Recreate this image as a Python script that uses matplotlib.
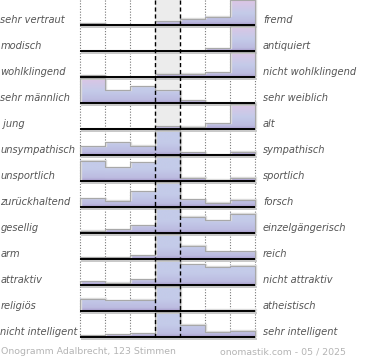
import numpy as np
import matplotlib
matplotlib.use("Agg")
import matplotlib.pyplot as plt
from matplotlib.colors import to_rgb

# semantic differential pairs (left / right pole)
left_labels = ["sehr vertraut", "modisch", "wohlklingend", "sehr männlich", " jung",
               "unsympathisch", "unsportlich", "zurückhaltend", "gesellig", "arm",
               "attraktiv", "religiös", "nicht intelligent"]
right_labels = ["fremd", "antiquiert", "nicht wohlklingend", "sehr weiblich", "alt",
                "sympathisch", "sportlich", "forsch", "einzelgängerisch", "reich",
                "nicht attraktiv", "atheistisch", "sehr intelligent"]

# share of votes (%) for the 7 answer steps of each pair
votes = [
    [1.6, 0.0, 0.0, 3.7, 6.5, 8.1, 80.0],
    [0.0, 0.0, 0.0, 0.0, 0.0, 2.8, 97.0],
    [1.6, 0.0, 0.0, 3.3, 3.3, 4.9, 87.0],
    [55.0, 12.6, 16.7, 12.6, 2.8, 0.0, 0.0],
    [0.0, 0.0, 0.0, 2.8, 2.0, 5.7, 90.0],
    [8.9, 12.6, 9.3, 62.0, 2.8, 0.8, 3.3],
    [20.3, 13.8, 18.7, 39.0, 3.3, 1.2, 3.3],
    [8.9, 6.5, 15.8, 50.0, 7.7, 4.1, 7.3],
    [2.0, 3.7, 7.7, 39.0, 16.3, 12.6, 19.1],
    [1.6, 1.6, 3.7, 64.0, 13.4, 7.7, 7.7],
    [3.7, 2.4, 5.7, 30.0, 20.7, 18.3, 19.5],
    [12.2, 10.6, 11.4, 63.0, 0.0, 1.2, 1.2],
    [1.6, 2.8, 3.7, 68.0, 12.2, 5.3, 6.5],
]

footer_left = "Onogramm Adalbrecht, 123 Stimmen"
footer_right = "onomastik.com - 05 / 2025"

W, H = 370, 360
ROW = 26          # px per row
CAP = 25.5        # visible bar height limit
TOP_Y = 340       # bottom of plot area in px
COL = 25          # px per answer column

purple = np.array(to_rgb("#a597c8"))
lav = np.array(to_rgb("#bcbbe0"))
blue = np.array(to_rgb("#c4cbe9"))
pink = np.array(to_rgb("#ddc5e5"))


def bar_colour(y, pinkish):
    '''colour at height y (px above baseline)'''
    if y <= 3:
        return purple + (lav - purple) * (y / 3)
    if y <= 12 or not pinkish:
        t = min((y - 3) / 9, 1)
        return lav + (blue - lav) * t
    t = min((y - 12) / 13, 1)
    return blue + (pink - blue) * t


fig = plt.figure(figsize=(W / 100, H / 100), dpi=100)
x_lo, x_hi = -0.04, 7.12
ax = fig.add_axes([(80 + x_lo * COL) / W, (H - TOP_Y) / H,
                   (x_hi - x_lo) * COL / W, TOP_Y / H])
ax.axis("off")

# neutral column
ax.axvspan(3, 4, color="#ececec", zorder=0, lw=0)

for k, row in enumerate(votes):
    base = 25 + ROW * k
    hs = [min(v, CAP) for v in row]
    for j, v in enumerate(row):
        h = hs[j]
        if h <= 0:
            continue
        pinkish = v > CAP and j != 3
        n = max(int(h * 4), 2)
        ys = np.linspace(h, 0, n)
        img = np.array([bar_colour(y, pinkish) for y in ys]).reshape(n, 1, 3)
        ax.imshow(img, extent=(j, j + 1, base, base - h), aspect="auto",
                  interpolation="bilinear", zorder=2)
    # step outline of the bars
    xs, ys = [0], [base]
    for j, h in enumerate(hs):
        xs += [j, j + 1]
        ys += [base - h, base - h]
    xs.append(7)
    ys.append(base)
    ax.plot(np.array(xs) + 0.04, np.array(ys) - 0.6, color="#dddddd", lw=1.0, zorder=2.5)
    ax.plot(xs, ys, color="#a8a8a8", lw=0.8, zorder=3)
    # baseline with shadow
    ax.hlines(base + 1.6, 0.05, 7.08, color="#c8c8c8", lw=1.4, zorder=3)
    ax.hlines(base, 0, 7, color="black", lw=1.4, zorder=4)

    yf = 1 - (base - 5) / H
    fig.text(0.5 / W, yf, left_labels[k], ha="left", va="center", fontsize=7.1,
             style="italic", color="#555555")
    fig.text(263 / W, yf, right_labels[k], ha="left", va="center", fontsize=7.1,
             style="italic", color="#555555")

# column grid
for x in [0, 1, 2, 5, 6, 7]:
    ax.vlines(x, 0, 338, color="#777777", lw=0.8, linestyles=(0, (1, 1.5)), zorder=1)
for x in [3, 4]:
    ax.vlines(x, 0, 338, color="black", lw=1.0, linestyles=(0, (3, 2)), zorder=5)

ax.set_xlim(x_lo, x_hi)
ax.set_ylim(TOP_Y, 0)

fig.text(1 / W, 1 - 352 / H, footer_left, ha="left", va="center", fontsize=6.75, color="#b4b4b4")
fig.text(220 / W, 1 - 352 / H, footer_right, ha="left", va="center", fontsize=6.75, color="#b4b4b4")

fig.savefig("out.png", dpi=100)
